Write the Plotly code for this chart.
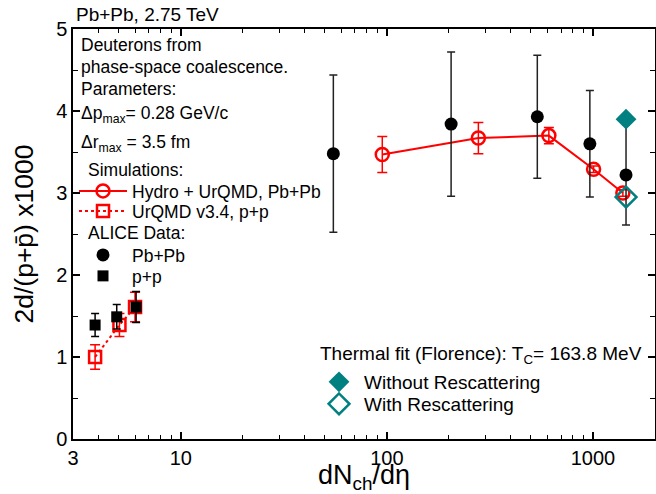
import plotly.graph_objects as go

# ALICE Pb+Pb, 2.76 TeV: deuteron/proton ratio (x1000) vs dNch/deta
pbpb_dndeta = [55, 205, 537, 966, 1447]
pbpb_ratio = [3.48, 3.84, 3.93, 3.60, 3.22]
pbpb_err = [0.96, 0.88, 0.75, 0.65, 0.61]

# ALICE p+p
pp_dndeta = [3.84, 4.89, 6.07]
pp_ratio = [1.39, 1.49, 1.61]
pp_err = [0.14, 0.15, 0.19]

# Hydro + UrQMD, Pb+Pb (phase-space coalescence)
hydro_dndeta = [95, 278, 611, 1007, 1397]
hydro_ratio = [3.47, 3.67, 3.70, 3.29, 3.00]
hydro_err = [0.22, 0.19, 0.10, 0.04, 0.04]

# UrQMD v3.4, p+p
urqmd_dndeta = [3.84, 5.04, 6.00]
urqmd_ratio = [1.00, 1.39, 1.61]
urqmd_err = [0.15, 0.14, 0.18]

# Thermal fit (Florence), T_C = 163.8 MeV
thermal_dndeta = [1447]
thermal_without = [3.90]
thermal_with = [2.95]

x_tickvals = [3, 10, 100, 1000]
x_ticktext = ["3", "10", "100", "1000"]
x_minor = [4, 5, 6, 7, 8, 9, 20, 30, 40, 50, 60, 70, 80, 90,
           200, 300, 400, 500, 600, 700, 800, 900, 2000]

RED = "#ff0000"
TEAL = "#008080"
FONT = "Liberation Sans, Arial, sans-serif"

W, H = 656, 494
ML, MR, MT, MB = 73, 1, 29, 55
PW, PH = W - ML - MR, H - MT - MB


def px(x):
    return (x - ML) / PW


def py(y):
    return (H - MB - y) / PH


fig = go.Figure()

# UrQMD p+p (dotted line, open squares)
fig.add_trace(go.Scatter(
    x=urqmd_dndeta, y=urqmd_ratio, mode="lines+markers",
    name="UrQMD v3.4, p+p", legend="legend2", showlegend=True,
    line=dict(color=RED, width=2, dash="dot"),
    marker=dict(symbol="square-open", size=12, color=RED, line=dict(width=2.5, color=RED)),
    error_y=dict(type="data", array=urqmd_err, color=RED, thickness=1.5, width=5),
))

# Hydro + UrQMD Pb+Pb (solid line, open circles)
fig.add_trace(go.Scatter(
    x=hydro_dndeta, y=hydro_ratio, mode="lines+markers",
    name="Hydro + UrQMD, Pb+Pb", legend="legend", showlegend=True,
    line=dict(color=RED, width=2),
    marker=dict(symbol="circle-open", size=13, color=RED, line=dict(width=2.5, color=RED)),
    error_y=dict(type="data", array=hydro_err, color=RED, thickness=1.5, width=5),
))

# ALICE p+p
fig.add_trace(go.Scatter(
    x=pp_dndeta, y=pp_ratio, mode="markers",
    name="p+p", legend="legend4", showlegend=True,
    marker=dict(symbol="square", size=11, color="black"),
    error_y=dict(type="data", array=pp_err, color="black", thickness=1.5, width=4),
))

# ALICE Pb+Pb
fig.add_trace(go.Scatter(
    x=pbpb_dndeta, y=pbpb_ratio, mode="markers",
    name="Pb+Pb", legend="legend3", showlegend=True,
    marker=dict(symbol="circle", size=13, color="black"),
    error_y=dict(type="data", array=pbpb_err, color="#222222", thickness=1.5, width=4),
))

# Thermal fit points
fig.add_trace(go.Scatter(
    x=thermal_dndeta, y=thermal_without, mode="markers",
    name="Without Rescattering", legend="legend5", showlegend=True,
    marker=dict(symbol="diamond", size=16, color=TEAL),
))
fig.add_trace(go.Scatter(
    x=thermal_dndeta, y=thermal_with, mode="markers",
    name="With Rescattering", legend="legend6", showlegend=True,
    marker=dict(symbol="diamond-open", size=16, color=TEAL, line=dict(width=2.5, color=TEAL)),
))

axis_common = dict(
    showline=True, linecolor="black", linewidth=1.5, mirror="ticks",
    ticks="inside", ticklen=7, tickwidth=1.5, tickcolor="black",
    showgrid=False, zeroline=False,
    tickfont=dict(size=20, color="black", family=FONT),
)

fig.update_xaxes(
    type="log", range=[0.47712, 3.30103],
    tickmode="array", tickvals=x_tickvals, ticktext=x_ticktext,
    minor=dict(tickmode="array", tickvals=x_minor, ticks="inside", ticklen=4,
               tickwidth=1.2, tickcolor="black"),
    title=dict(text="dN<sub>ch</sub>/dη", font=dict(size=27, color="black", family=FONT), standoff=7),
    **axis_common,
)
fig.update_yaxes(
    range=[0, 5], tickmode="linear", tick0=0, dtick=1,
    minor=dict(tickmode="linear", tick0=0, dtick=0.5, ticks="inside", ticklen=5,
               tickwidth=1.2, tickcolor="black"),
    title=dict(text="2d/(p+p\u0304) x1000", font=dict(size=26.5, color="black", family=FONT), standoff=15),
    **axis_common,
)


def legend_at(x, y, size, width):
    # one entry per legend box so every row can be placed on its own
    return dict(
        bgcolor="rgba(0,0,0,0)", borderwidth=0, itemwidth=width,
        xanchor="left", yanchor="middle", x=px(x), y=py(y),
        font=dict(size=size, color="black", family=FONT),
    )


fig.update_layout(
    width=W, height=H,
    margin=dict(l=ML, r=MR, t=MT, b=MB, autoexpand=False),
    paper_bgcolor="white", plot_bgcolor="white",
    font=dict(family=FONT, color="black"),
    showlegend=True,
    legend=legend_at(74, 191, 17.5, 48),
    legend2=legend_at(74, 211, 17.5, 48),
    legend3=legend_at(74, 255, 17.5, 48),
    legend4=legend_at(74, 276, 17.5, 48),
    legend5=legend_at(314, 382, 19, 40),
    legend6=legend_at(314, 404, 19, 40),
)

# Text block in the upper left and the thermal-fit heading
notes = [
    ("Pb+Pb, 2.75 TeV", 74, 15, 19),
    ("Deuterons from", 79, 45, 17.5),
    ("phase-space coalescence.", 79, 67, 17.5),
    ("Parameters:", 79, 89, 17.5),
    ("Δp<sub>max</sub>= 0.28 GeV/c", 79, 115, 17.5),
    ("Δr<sub>max</sub> = 3.5 fm", 79, 143, 17.5),
    ("Simulations:", 86, 170, 17.5),
    ("ALICE Data:", 86, 233, 17.5),
    ("Thermal fit (Florence): T<sub>C</sub>= 163.8 MeV", 318, 355, 19),
]
for text, x, y, size in notes:
    fig.add_annotation(
        text=text, x=px(x), y=py(y), xref="paper", yref="paper",
        xanchor="left", yanchor="middle", showarrow=False,
        font=dict(size=size, color="black", family=FONT),
    )

fig.write_html("out.html")
